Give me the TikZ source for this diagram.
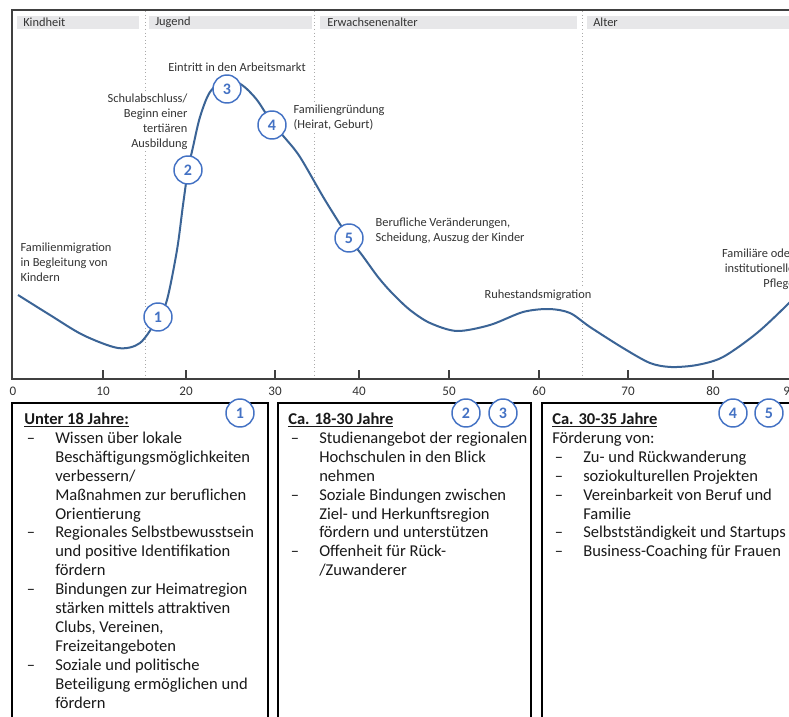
\documentclass[tikz,border=0pt]{standalone}
\usepackage{fontspec}
\setmainfont{Carlito}

\definecolor{curveblue}{RGB}{59,100,150}
\definecolor{numblue}{RGB}{68,114,196}
\definecolor{bandgray}{RGB}{231,231,233}
\definecolor{framegray}{RGB}{64,64,64}
\definecolor{sepgray}{RGB}{170,170,170}

\tikzset{
  lbl/.style={font=\fontsize{9.3}{11.25}\selectfont, text=black!80, fill=white, inner sep=1pt},
  hdr/.style={font=\fontsize{9.3}{11.25}\selectfont, text=black!80, inner sep=0pt, anchor=west},
  num/.style={circle, draw=numblue, fill=white, line width=1.1pt, minimum size=21pt, inner sep=0pt, text=numblue, font=\fontsize{12}{12}\bfseries\selectfont},
  boxtxt/.style={font=\fontsize{12.4}{14.2}\selectfont, text=black!90, align=left, anchor=north west, inner sep=0pt},
  frame/.style={framegray, line width=1.1pt}
}
\newcommand{\itm}{\makebox[23.25pt][l]{\hspace{2pt}--}}
\newcommand{\cnt}{\makebox[23.25pt]{}}

\begin{document}
\begin{tikzpicture}[x=0.75pt,y=-0.75pt]
\useasboundingbox (0,0) rectangle (789,717);
\clip (0,0) rectangle (789,717);
\fill[white] (0,0) rectangle (789,717);

% age phases
\fill[bandgray] (17,16) rectangle (139,29);
\fill[bandgray] (149,16) rectangle (312,29);
\fill[bandgray] (320,16) rectangle (577,29);
\fill[bandgray] (587,16) rectangle (800,29);
\node[hdr] (kindheit) at (23,22.5) {Kindheit};
\node[hdr] (jugend) at (155,22.5) {Jugend};
\node[hdr] (erwachsen) at (327,22.5) {Erwachsenenalter};
\node[hdr] (alter) at (593,22.5) {Alter};
\foreach \x in {145,314,582}
  \draw[sepgray, dotted, line width=0.7pt] (\x,11) -- (\x,378);

% frame and axis
\draw[frame] (800,10) -- (12,10) -- (12,379) -- (800,379);
\foreach \x/\v in {103/10,186/20,275/30,359/40,449/50,539/60,628/70,713/80,790/90}
  \draw[frame, line width=0.9pt] (\x,370) -- (\x,379);
\foreach \x/\v in {13/0,103/10,186/20,275/30,359/40,449/50,539/60,628/70,713/80,790/90}
  \node[font=\fontsize{9.8}{12}\selectfont, text=black!80] (tick\v) at (\x,391) {\v};

% migration curve
\draw[curveblue, line width=1.5pt] plot [smooth] coordinates {(18,295) (50,315) (83,335) (118,348) (140,343) (158,318) (167,300) (177,250) (183,205) (188,170) (193,147) (200,117) (210,92) (226,79) (242,85) (257,100) (272,123) (285,138) (300,157) (325,200) (349,238) (362,255) (378,277) (392,293) (410,310) (430,323) (457,331) (490,325) (523,312) (549,309) (570,313) (590,327) (623,348) (650,363) (671,367) (697,365) (723,357) (757,333) (789,303) (800,290)};

% labels
\node[lbl] (arbeit) at (237,67) {Eintritt in den Arbeitsmarkt};
\node[lbl, align=right, anchor=north east] (schule) at (189,92) {Schulabschluss/\\Beginn einer\\tertiären\\Ausbildung};
\node[lbl, align=left, anchor=north west] (familie) at (292,103) {Familiengründung\\(Heirat, Geburt)};
\node[lbl, align=left, anchor=north west] (kinder) at (19,241) {Familienmigration\\in Begleitung von\\Kindern};
\node[lbl, align=left, anchor=north west] (beruf) at (374,216) {Berufliche Veränderungen,\\Scheidung, Auszug der Kinder};
\node[lbl] (ruhe) at (538,295) {Ruhestandsmigration};
\node[lbl, align=right, anchor=north east] (pflege) at (796,247) {Familiäre oder\\institutionelle\\Pflege};

% stages on the curve
\node[num] (c1) at (158,317) {1};
\node[num] (c2) at (188,170) {2};
\node[num] (c3) at (227,89) {3};
\node[num] (c4) at (272,125) {4};
\node[num] (c5) at (349,238) {5};

% measures
\draw[black, line width=1.1pt] (12,730) -- (12,403) -- (268,403) -- (268,730);
\draw[black, line width=1.1pt] (278,730) -- (278,403) -- (531,403) -- (531,730);
\draw[black, line width=1.1pt] (542,730) -- (542,403) -- (800,403) -- (800,730);

\node[boxtxt] (under18) at (24,412.5) {\textbf{\underline{Unter 18 Jahre:}}\\
  \itm Wissen über lokale\\
  \cnt Beschäftigungsmöglichkeiten\\
  \cnt verbessern/\\
  \cnt Maßnahmen zur beruflichen\\
  \cnt Orientierung\\
  \itm Regionales Selbstbewusstsein\\
  \cnt und positive Identifikation\\
  \cnt fördern\\
  \itm Bindungen zur Heimatregion\\
  \cnt stärken mittels attraktiven\\
  \cnt Clubs, Vereinen,\\
  \cnt Freizeitangeboten\\
  \itm Soziale und politische\\
  \cnt Beteiligung ermöglichen und\\
  \cnt fördern};
\node[boxtxt] (ca1830) at (288,412.5) {\textbf{\underline{Ca. 18-30 Jahre}}\\
  \itm Studienangebot der regionalen\\
  \cnt Hochschulen in den Blick\\
  \cnt nehmen\\
  \itm Soziale Bindungen zwischen\\
  \cnt Ziel- und Herkunftsregion\\
  \cnt fördern und unterstützen\\
  \itm Offenheit für Rück-\\
  \cnt /Zuwanderer};
\node[boxtxt] (ca3035) at (552,412.5) {\textbf{\underline{Ca. 30-35 Jahre}}\\
  Förderung von:\\
  \itm Zu- und Rückwanderung\\
  \itm soziokulturellen Projekten\\
  \itm Vereinbarkeit von Beruf und\\
  \cnt Familie\\
  \itm Selbstständigkeit und Startups\\
  \itm Business-Coaching für Frauen};

\node[num] (b1) at (240,413) {1};
\node[num] (b2) at (466,413) {2};
\node[num] (b3) at (503,413) {3};
\node[num] (b4) at (733,413) {4};
\node[num] (b5) at (769,413) {5};
\end{tikzpicture}
\end{document}
